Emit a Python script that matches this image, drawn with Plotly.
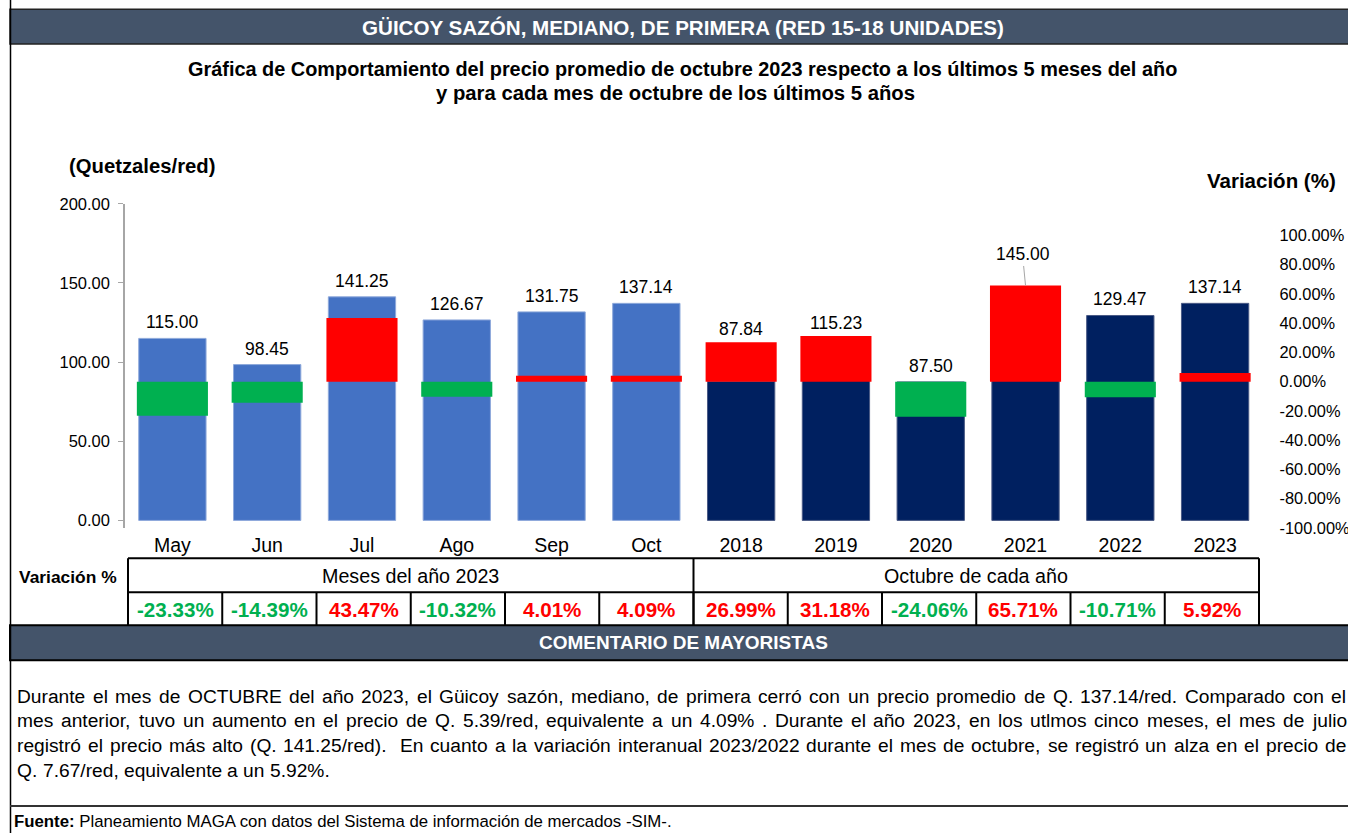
import plotly.graph_objects as go

# ---------------- data ----------------
categories = ["May", "Jun", "Jul", "Ago", "Sep", "Oct",
              "2018", "2019", "2020", "2021", "2022", "2023"]
month_labels = categories[:6]
year_labels = categories[6:]
month_prices = [115.00, 98.45, 141.25, 126.67, 131.75, 137.14]
year_prices = [87.84, 115.23, 87.50, 145.00, 129.47, 137.14]
variation_pct = [-23.33, -14.39, 43.47, -10.32, 4.01, 4.09,
                 26.99, 31.18, -24.06, 65.71, -10.71, 5.92]
left_ticks = [0, 50, 100, 150, 200]
right_ticks = [-100, -80, -60, -40, -20, 0, 20, 40, 60, 80, 100]

header_title = "GÜICOY SAZÓN, MEDIANO, DE PRIMERA (RED 15-18 UNIDADES)"
subtitle_lines = [
    "Gráfica de Comportamiento del precio promedio de octubre 2023 respecto a los últimos 5 meses del año",
    "y para cada mes de octubre de los últimos 5 años",
]
left_axis_title = "(Quetzales/red)"
right_axis_title = "Variación (%)"
table_row_label = "Variación %"
group_labels = ["Meses del año 2023", "Octubre de cada año"]
comment_title = "COMENTARIO DE MAYORISTAS"
comment_lines = [
    "Durante el mes de OCTUBRE del año 2023, el Güicoy sazón, mediano, de primera cerró con un precio promedio de Q. 137.14/red. Comparado con el",
    "mes anterior, tuvo un aumento en el precio de Q. 5.39/red, equivalente a un 4.09% . Durante el año 2023, en los utlmos cinco meses, el mes de julio",
    "registró el precio más alto (Q. 141.25/red).  En cuanto a la variación interanual 2023/2022 durante el mes de octubre, se registró un alza en el precio de",
    "Q. 7.67/red, equivalente a un 5.92%.",
]
source_bold = "Fuente:"
source_text = " Planeamiento MAGA con datos del Sistema de información de mercados -SIM-."
leader_categories = {"2021"}

# ---------------- style ----------------
FIG_W, FIG_H = 1356, 841
FONT = "Arial, 'Liberation Sans', sans-serif"
BLUE = "#4472C4"
NAVY = "#002060"
RED = "#FF0000"
GREEN = "#00B050"
SLATE = "#44546A"
AXIS_GRAY = "#A6A6A6"

Y_RANGE = [-5.05, 200.0]
Y2_RANGE = [-100.3, 121.5]
PLOT_L, PLOT_R, PLOT_T, PLOT_B = 125.0, 1262.5, 203.0, 528.0

# the rendered page appears in the final picture at x*H_SCALE, V_OFF + y*V_SCALE;
# layout positions below are given in picture pixels and converted back.
H_SCALE = 1.0
V_OFF, V_SCALE = 7.85, 0.9812

# Arial / Liberation Sans advance widths (1/1000 em) used to justify the comment paragraph
_UP = dict(zip("ABCDEFGHIJKLMNOPQRSTUVWXYZ",
               [667, 667, 722, 722, 667, 611, 778, 722, 278, 500, 667, 556, 833,
                722, 778, 667, 778, 722, 667, 611, 722, 667, 944, 667, 667, 611]))
_LO = dict(zip("abcdefghijklmnopqrstuvwxyz",
               [556, 556, 500, 556, 556, 278, 556, 556, 222, 222, 500, 222, 833,
                556, 556, 556, 556, 333, 500, 278, 556, 500, 722, 500, 500, 500]))
CHAR_W = {**_UP, **_LO, **{d: 556 for d in "0123456789"},
          " ": 278, ".": 278, ",": 278, "/": 278, ":": 278, "(": 333, ")": 333,
          "%": 889, "-": 333, "á": 556, "é": 556, "í": 278, "ó": 556, "ú": 556,
          "ñ": 556, "ü": 556, "Ü": 722}


def text_width(s, size):
    return sum(CHAR_W.get(c, 556) for c in s) * size / 1000.0 * H_SCALE


def px(x):
    return (x / H_SCALE) / FIG_W


def py(y):
    return 1 - ((y - V_OFF) / V_SCALE) / FIG_H


def y2_to_y(v):
    return Y_RANGE[0] + (v - Y2_RANGE[0]) * (Y_RANGE[1] - Y_RANGE[0]) / (Y2_RANGE[1] - Y2_RANGE[0])


def paper_text(x, y, text, size, color="#000000", xanchor="center"):
    return dict(x=px(x), y=py(y), xref="paper", yref="paper", text=text,
                xanchor=xanchor, yanchor="middle", showarrow=False,
                font=dict(family=FONT, size=size, color=color))


fig = go.Figure()

fig.add_trace(go.Bar(
    x=month_labels, y=month_prices, width=0.71,
    marker=dict(color=BLUE, line=dict(color="#8EA9DB", width=1)),
    hoverinfo="x+y", showlegend=False,
))
fig.add_trace(go.Bar(
    x=year_labels, y=year_prices, width=0.71,
    marker=dict(color=NAVY, line=dict(color="#4A5A85", width=1)),
    hoverinfo="x+y", showlegend=False,
))
fig.add_trace(go.Bar(
    x=categories, y=variation_pct, base=0, yaxis="y2", width=0.75,
    marker=dict(color=[RED if v > 0 else GREEN for v in variation_pct], line=dict(width=0)),
    hoverinfo="x+y", showlegend=False,
))

annotations = []
shapes = []

# data labels (x given as category index so that year names are not read as numbers)
LABEL_SIZE = 17.5
prices = month_prices + year_prices
for i, (cat, p, v) in enumerate(zip(categories, prices, variation_pct)):
    red_top = y2_to_y(v) if v > 0 else p
    top = max(p, red_top)
    label = f"{p:.2f}"
    if cat in leader_categories:
        annotations.append(dict(
            x=i, y=top, xref="x", yref="y", text=label, showarrow=True,
            arrowhead=0, arrowwidth=1, arrowcolor=AXIS_GRAY, ax=-3, ay=-31,
            standoff=0, font=dict(family=FONT, size=LABEL_SIZE, color="#000000"),
        ))
    else:
        annotations.append(dict(
            x=i, y=top, xref="x", yref="y", text=label, showarrow=False,
            xanchor="center", yanchor="bottom", yshift=(1 if top > p else 4),
            font=dict(family=FONT, size=LABEL_SIZE, color="#000000"),
        ))

# header band
shapes.append(dict(type="rect", xref="paper", yref="paper",
                   x0=px(10), x1=1.01, y0=py(43), y1=py(8),
                   fillcolor=SLATE, line=dict(color="#222222", width=1.5), layer="below"))
annotations.append(paper_text(683, 26, f"<b>{header_title}</b>", 20.6, "white"))
annotations.append(paper_text(682, 68, f"<b>{subtitle_lines[0]}</b>", 19.9))
annotations.append(paper_text(675, 92, f"<b>{subtitle_lines[1]}</b>", 20.3))
annotations.append(paper_text(142, 165, f"<b>{left_axis_title}</b>", 20.3))
annotations.append(paper_text(1271, 180, f"<b>{right_axis_title}</b>", 20.5))

# outer left border
shapes.append(dict(type="line", xref="paper", yref="paper", x0=px(10.5), x1=px(10.5), y0=-0.02, y1=1.02,
                   line=dict(color="#000000", width=1.5)))

# table
T_L, T_R = 128.0, 1259.0
R_TOP, R_MID, R_BOT = 558.0, 592.0, 625.0
cell_w = (T_R - T_L) / len(categories)
black = dict(color="#000000", width=2)
for yv in (R_TOP, R_MID):
    shapes.append(dict(type="line", xref="paper", yref="paper", x0=px(T_L), x1=px(T_R), y0=py(yv), y1=py(yv), line=black))
for xv in (T_L, T_L + cell_w * 6, T_R):
    shapes.append(dict(type="line", xref="paper", yref="paper", x0=px(xv), x1=px(xv), y0=py(R_BOT), y1=py(R_TOP), line=black))
for i in range(1, len(categories)):
    xv = T_L + cell_w * i
    shapes.append(dict(type="line", xref="paper", yref="paper", x0=px(xv), x1=px(xv), y0=py(R_BOT), y1=py(R_MID), line=black))

annotations.append(paper_text(68, 577, f"<b>{table_row_label}</b>", 17.4))
for g, label in enumerate(group_labels):
    cx = T_L + cell_w * (6 * g + 3)
    annotations.append(paper_text(cx, 576, label, 19.7))
for i, v in enumerate(variation_pct):
    cx = T_L + cell_w * (i + 0.5)
    annotations.append(paper_text(cx, 609, f"<b>{v:.2f}%</b>", 20.6, RED if v > 0 else GREEN))

# comment band
shapes.append(dict(type="rect", xref="paper", yref="paper",
                   x0=px(10), x1=1.01, y0=py(660), y1=py(625),
                   fillcolor=SLATE, line=dict(color="#000000", width=2), layer="below"))
annotations.append(paper_text(683, 642, f"<b>{comment_title}</b>", 19, "white"))

# justified comment paragraph (last line left-aligned)
PARA_SIZE = 19.2
PARA_L, PARA_R = 15.0, 1344.0
for li, line in enumerate(comment_lines):
    yc = 696 + 24.7 * li
    tokens = line.split(" ")
    widths = [text_width(t, PARA_SIZE) for t in tokens]
    if li < len(comment_lines) - 1 and len(tokens) > 1:
        gap = (PARA_R - PARA_L - sum(widths)) / (len(tokens) - 1)
    else:
        gap = text_width(" ", PARA_SIZE)
    xpos = PARA_L
    for t, w in zip(tokens, widths):
        if t:
            annotations.append(paper_text(xpos, yc, t, PARA_SIZE, xanchor="left"))
        xpos += w + gap

# source
shapes.append(dict(type="line", xref="paper", yref="paper", x0=px(10), x1=1.01, y0=py(806), y1=py(806),
                   line=dict(color="#333333", width=2)))
annotations.append(paper_text(12, 822, f"<b>{source_bold}</b>{source_text}", 16.8, xanchor="left"))

fig.update_layout(
    width=FIG_W, height=FIG_H, autosize=False,
    margin=dict(l=0, r=0, t=0, b=0, pad=0),
    paper_bgcolor="white", plot_bgcolor="rgba(0,0,0,0)",
    barmode="overlay",
    font=dict(family=FONT, color="#000000"),
    showlegend=False,
    xaxis=dict(
        domain=[px(PLOT_L), px(PLOT_R)],
        type="category", categoryorder="array", categoryarray=categories,
        range=[-0.5, len(categories) - 0.5],
        showline=False, showgrid=False, zeroline=False, ticks="",
        tickfont=dict(family=FONT, size=19.5, color="#000000"),
        ticklabelstandoff=3,
    ),
    yaxis=dict(
        domain=[py(PLOT_B), py(PLOT_T)],
        range=Y_RANGE, tickvals=left_ticks, ticktext=[f"{t:.2f}" for t in left_ticks],
        showline=True, linecolor=AXIS_GRAY, linewidth=1.5,
        ticks="outside", ticklen=5, tickcolor=AXIS_GRAY, tickwidth=1,
        showgrid=False, zeroline=False,
        tickfont=dict(family=FONT, size=16.5, color="#000000"),
        ticklabelstandoff=5,
    ),
    yaxis2=dict(
        overlaying="y", side="right", anchor="x",
        range=Y2_RANGE, tickvals=right_ticks, ticktext=[f"{t:.2f}%" for t in right_ticks],
        showline=False, showgrid=False, zeroline=False, ticks="",
        tickfont=dict(family=FONT, size=16.4, color="#000000"),
        ticklabelstandoff=16,
    ),
    annotations=annotations,
    shapes=shapes,
)

page_fix = (
    "var gd=document.getElementById('{plot_id}');"
    "document.documentElement.style.cssText='margin:0;padding:0;overflow:hidden;';"
    "document.body.style.cssText='margin:0;padding:0;overflow:hidden;';"
    "gd.style.position='absolute';gd.style.left='0px';gd.style.top='0px';"
)
fig.write_html(
    "out.html",
    config={"responsive": False, "displayModeBar": False},
    post_script=page_fix,
)
